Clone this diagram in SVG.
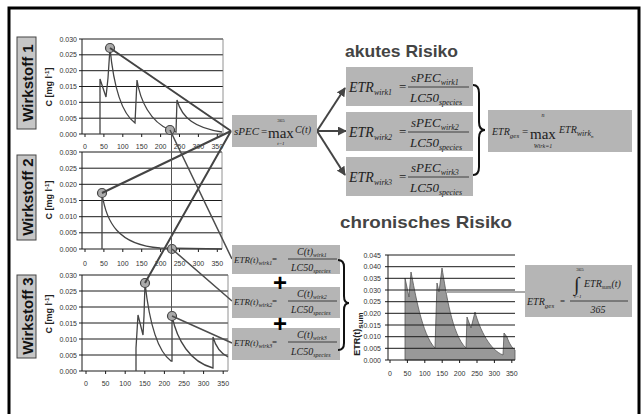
<svg xmlns="http://www.w3.org/2000/svg" width="641" height="414" viewBox="0 0 641 414">
<style>
.ax{font-family:"Liberation Sans",Arial,sans-serif;font-size:7px;fill:#333}
.axr{text-anchor:end}
.axm{text-anchor:middle}
.grid{stroke:#1a1a1a;stroke-width:1;fill:none}
.frame{fill:none;stroke:#777;stroke-width:0.8}
.curve{fill:none;stroke:#444;stroke-width:1.3}
.mk{fill:#aaa;stroke:#444;stroke-width:1.2}
.wlab{fill:#c6c6c6;stroke:#444;stroke-width:1}
.wt{font-family:"Liberation Sans",Arial,sans-serif;font-weight:bold;font-size:15px;fill:#111;text-anchor:middle}
.ct{font-family:"Liberation Sans",Arial,sans-serif;font-weight:bold;font-size:9px;fill:#222;text-anchor:middle}
.box{fill:#b5b5b5}
.f{font-family:"Liberation Serif","Times New Roman",serif;font-style:italic;fill:#222}
.fu{font-family:"Liberation Serif","Times New Roman",serif;fill:#222}
.fl{stroke:#222;stroke-width:0.8}
.conn{stroke:#444;stroke-width:2;fill:none}
.conn2{stroke:#4d4d4d;stroke-width:1.5;fill:none}
.title{font-family:"Liberation Sans",Arial,sans-serif;font-weight:bold;font-size:17px;fill:#444}
.brace{fill:none;stroke:#111;stroke-width:2}
.plus{font-family:"Liberation Sans",Arial,sans-serif;font-weight:bold;font-size:24px;fill:#000;text-anchor:middle}
</style>
<defs>
<marker id="ah" viewBox="0 0 10 10" refX="9" refY="5" markerWidth="9" markerHeight="9" markerUnits="userSpaceOnUse" orient="auto"><path d="M0,0 L10,5 L0,10 z" fill="#444"/></marker>
</defs>
<rect x="0" y="0" width="641" height="414" fill="#fff"/>
<path d="M9,414 V8 H639 V414" fill="none" stroke="#000" stroke-width="3"/>

<g id="chart1">
<rect class="wlab" x="17" y="37" width="19" height="92"/>
<text class="wt" transform="translate(32.5,83) rotate(-90)">Wirkstoff 1</text>
<text class="ct" transform="translate(52,87) rotate(-90)">C [mg l<tspan dy="-3" font-size="6">-1</tspan><tspan dy="3">]</tspan></text>
<path class="grid" d="M82,39H223M82,54.8H223M82,70.7H223M82,86.5H223M82,102.3H223M82,118.2H223M82,134H223M82,39V134M79,39H82M79,54.8H82M79,70.7H82M79,86.5H82M79,102.3H82M79,118.2H82M79,134H82M85,134v3M103.9,134v3M122.8,134v3M141.7,134v3M160.6,134v3M179.5,134v3M198.4,134v3M217.3,134v3"/>
<path class="frame" d="M223,39V134"/>
<g class="ax axr"><text x="77" y="41.5">0.030</text><text x="77" y="57.3">0.025</text><text x="77" y="73.2">0.020</text><text x="77" y="89">0.015</text><text x="77" y="104.8">0.010</text><text x="77" y="120.7">0.005</text><text x="77" y="136.5">0.000</text></g>
<g class="ax axm"><text x="85" y="149">0</text><text x="103.9" y="149">50</text><text x="122.8" y="149">100</text><text x="141.7" y="149">150</text><text x="160.6" y="149">200</text><text x="179.5" y="149">250</text><text x="198.4" y="149">300</text><text x="217.3" y="149">350</text></g>
<path class="curve" d="M100,134V79L106,97L108,78L110,48C113,80 120,112 135,123L137,80C140,100 150,122 170,130L176,132L177,100C182,118 195,128 222,132"/>
<circle class="mk" cx="110" cy="48" r="4.5"/>
<circle class="mk" cx="170" cy="130" r="4.5"/>
</g>

<g id="chart2">
<rect class="wlab" x="17" y="155" width="19" height="85"/>
<text class="wt" transform="translate(32.5,197) rotate(-90)">Wirkstoff 2</text>
<text class="ct" transform="translate(52,200) rotate(-90)">C [mg l<tspan dy="-3" font-size="6">-1</tspan><tspan dy="3">]</tspan></text>
<path class="grid" d="M82,152H222M82,168.2H222M82,184.3H222M82,200.5H222M82,216.7H222M82,232.8H222M82,249H222M82,152V249M79,152H82M79,168.2H82M79,184.3H82M79,200.5H82M79,216.7H82M79,232.8H82M79,249H82M85,249v3M103.9,249v3M122.8,249v3M141.7,249v3M160.6,249v3M179.5,249v3M198.4,249v3M217.3,249v3"/>
<path class="frame" d="M222,152V249"/>
<g class="ax axr"><text x="77" y="154.5">0.030</text><text x="77" y="170.7">0.025</text><text x="77" y="186.8">0.020</text><text x="77" y="203">0.015</text><text x="77" y="219.2">0.010</text><text x="77" y="235.3">0.005</text><text x="77" y="251.5">0.000</text></g>
<g class="ax axm"><text x="85" y="266">0</text><text x="103.9" y="266">50</text><text x="122.8" y="266">100</text><text x="141.7" y="266">150</text><text x="160.6" y="266">200</text><text x="179.5" y="266">250</text><text x="198.4" y="266">300</text><text x="217.3" y="266">350</text></g>
<path class="curve" d="M102,249V193C106,222 118,245 160,248L222,249"/>
<circle class="mk" cx="102" cy="193" r="4.5"/>
<circle class="mk" cx="172" cy="249" r="4.5"/>
</g>

<g id="chart3">
<rect class="wlab" x="17" y="275" width="19" height="83"/>
<text class="wt" transform="translate(32.5,316) rotate(-90)">Wirkstoff 3</text>
<text class="ct" transform="translate(52,314) rotate(-90)">C [mg l<tspan dy="-3" font-size="6">-1</tspan><tspan dy="3">]</tspan></text>
<path class="grid" d="M82,275H228M82,291H228M82,307H228M82,323H228M82,339H228M82,355H228M82,371H228M82,275V371M79,275H82M79,291H82M79,307H82M79,323H82M79,339H82M79,355H82M79,371H82M86,371v3M105.6,371v3M125.2,371v3M144.8,371v3M164.4,371v3M184,371v3M203.6,371v3M223.2,371v3"/>
<path class="frame" d="M228,275V371"/>
<g class="ax axr"><text x="77" y="277.5">0.030</text><text x="77" y="293.5">0.025</text><text x="77" y="309.5">0.020</text><text x="77" y="325.5">0.015</text><text x="77" y="341.5">0.010</text><text x="77" y="357.5">0.005</text><text x="77" y="373.5">0.000</text></g>
<g class="ax axm"><text x="86" y="386">0</text><text x="105.6" y="386">50</text><text x="125.2" y="386">100</text><text x="144.8" y="386">150</text><text x="164.4" y="386">200</text><text x="184" y="386">250</text><text x="203.6" y="386">300</text><text x="223.2" y="386">350</text></g>
<path class="curve" d="M136,371V348L138,315L143,335L144,316L145,283C149,320 156,350 171,361L172,361V316C177,340 190,362 213,368L213,337C216,348 222,354 228,357"/>
<circle class="mk" cx="145" cy="283" r="4.5"/>
<circle class="mk" cx="172" cy="316" r="4.5"/>
</g>

<g id="connectors">
<path class="conn" d="M110,48L231,131M102,193L231,131M145,283L231,131"/>
<path class="conn2" d="M170,130L232,259M172,249L232,301M172,316L232,343"/>
<path d="M171.5,134V312" stroke="#555" stroke-width="1"/>
<path class="conn" stroke-width="2.5" d="M317,131L345,88" marker-end="url(#ah)"/>
<path class="conn" stroke-width="2.5" d="M317,131L346,131" marker-end="url(#ah)"/>
<path class="conn" stroke-width="2.5" d="M317,131L345,175" marker-end="url(#ah)"/>
<path d="M447,292H525" stroke="#555" stroke-width="1.2"/>
</g>

<g id="spec">
<rect class="box" x="232" y="115" width="85" height="32"/>
<text class="f" x="234" y="135" font-size="11">sPEC</text>
<text class="fu" x="261" y="135" font-size="11">=</text>
<text class="fu" x="268" y="138" font-size="15">max</text>
<text class="fu" x="281" y="122" font-size="5" text-anchor="middle">365</text>
<text class="f" x="281" y="145" font-size="5" text-anchor="middle">t=1</text>
<text class="f" x="295" y="133" font-size="10">C(t)</text>
</g>

<g id="title-acute"><text class="title" x="345" y="57" textLength="113" lengthAdjust="spacingAndGlyphs">akutes Risiko</text></g>

<g id="etr1">
<rect class="box" x="346" y="67" width="127" height="39"/>
<text class="f" x="349" y="92" font-size="14">ETR<tspan font-size="8" dy="3">wirk1</tspan></text>
<text class="fu" x="399" y="91" font-size="13">=</text>
<text class="f" x="411" y="82" font-size="13">sPEC<tspan font-size="8" dy="3">wirk1</tspan></text>
<path class="fl" d="M408,87H469"/>
<text class="f" x="410" y="102" font-size="13">LC50<tspan font-size="8" dy="3">species</tspan></text>
</g>
<g id="etr2">
<rect class="box" x="346" y="112" width="127" height="39"/>
<text class="f" x="349" y="137" font-size="14">ETR<tspan font-size="8" dy="3">wirk2</tspan></text>
<text class="fu" x="399" y="136" font-size="13">=</text>
<text class="f" x="411" y="127" font-size="13">sPEC<tspan font-size="8" dy="3">wirk2</tspan></text>
<path class="fl" d="M408,132H469"/>
<text class="f" x="410" y="147" font-size="13">LC50<tspan font-size="8" dy="3">species</tspan></text>
</g>
<g id="etr3">
<rect class="box" x="346" y="157" width="127" height="39"/>
<text class="f" x="349" y="182" font-size="14">ETR<tspan font-size="8" dy="3">wirk3</tspan></text>
<text class="fu" x="399" y="181" font-size="13">=</text>
<text class="f" x="411" y="172" font-size="13">sPEC<tspan font-size="8" dy="3">wirk3</tspan></text>
<path class="fl" d="M408,177H469"/>
<text class="f" x="410" y="192" font-size="13">LC50<tspan font-size="8" dy="3">species</tspan></text>
</g>

<path class="brace" d="M473,85Q479,85 479,93V122Q479,130 485,130Q479,130 479,138V167Q479,175 473,175"/>

<g id="etrges-acute">
<rect class="box" x="488" y="110" width="144" height="42"/>
<text class="f" x="492" y="135" font-size="10">ETR<tspan font-size="7" dy="3">ges</tspan></text>
<text class="fu" x="522" y="135" font-size="11">=</text>
<text class="fu" x="530" y="139" font-size="15">max</text>
<text class="f" x="543" y="117" font-size="6" text-anchor="middle">n</text>
<text class="f" x="543" y="148" font-size="6" text-anchor="middle">Wirk=1</text>
<text class="f" x="559" y="133" font-size="10">ETR<tspan font-size="8" dy="3">wirk</tspan><tspan font-size="5" dy="2">n</tspan></text>
</g>

<g id="title-chronic"><text class="title" x="340" y="228" textLength="172" lengthAdjust="spacingAndGlyphs">chronisches Risiko</text></g>

<g id="etrt1">
<rect class="box" x="232" y="245" width="108" height="29"/>
<text class="f" x="234" y="263" font-size="9">ETR(t)<tspan font-size="6" dy="2">wirk1</tspan></text>
<text class="fu" x="272" y="262" font-size="9">=</text>
<text class="f" x="297" y="255" font-size="10">C(t)<tspan font-size="6" dy="2">wirk1</tspan></text>
<path class="fl" d="M288,259H337"/>
<text class="f" x="291" y="271" font-size="10">LC50<tspan font-size="6" dy="2">species</tspan></text>
</g>
<g id="etrt2">
<rect class="box" x="232" y="287" width="108" height="31"/>
<text class="f" x="234" y="305" font-size="9">ETR(t)<tspan font-size="6" dy="2">wirk2</tspan></text>
<text class="fu" x="272" y="304" font-size="9">=</text>
<text class="f" x="297" y="297" font-size="10">C(t)<tspan font-size="6" dy="2">wirk2</tspan></text>
<path class="fl" d="M288,301H337"/>
<text class="f" x="291" y="313" font-size="10">LC50<tspan font-size="6" dy="2">species</tspan></text>
</g>
<g id="etrt3">
<rect class="box" x="232" y="328" width="108" height="32"/>
<text class="f" x="234" y="346" font-size="9">ETR(t)<tspan font-size="6" dy="2">wirk3</tspan></text>
<text class="fu" x="272" y="345" font-size="9">=</text>
<text class="f" x="297" y="338" font-size="10">C(t)<tspan font-size="6" dy="2">wirk3</tspan></text>
<path class="fl" d="M288,342H337"/>
<text class="f" x="291" y="355" font-size="10">LC50<tspan font-size="6" dy="2">species</tspan></text>
</g>
<g id="plus"><text class="plus" x="280" y="291">+</text><text class="plus" x="280" y="332">+</text></g>

<path class="brace" d="M338,260Q344,260 344,267V296Q344,303 349,303Q344,303 344,310V343Q344,350 338,350"/>

<g id="sumchart">
<path d="M405,360L405,278L409,297L411,272C415,292 422,335 435,348L437,283L439,292L442,268C446,292 452,335 466,348L467,317L471,328L475,312C480,330 490,350 503,355L504,333L507,337C509,343 512,348 515,350L515,360Z" fill="#999" stroke="#555" stroke-width="0.8"/>
<path class="grid" d="M388,255H515M388,266.7H515M388,278.3H515M388,290H515M388,301.7H515M388,313.3H515M388,325H515M388,336.7H515M388,348.3H515M388,360H515M388,255V360M385,255H388M385,266.7H388M385,278.3H388M385,290H388M385,301.7H388M385,313.3H388M385,325H388M385,336.7H388M385,348.3H388M385,360H388M390,360v3M407.4,360v3M424.8,360v3M442.2,360v3M459.6,360v3M477,360v3M494.4,360v3M511.8,360v3"/>
<g class="ax axr"><text x="381" y="257.5">0.045</text><text x="381" y="269.2">0.040</text><text x="381" y="280.8">0.035</text><text x="381" y="292.5">0.030</text><text x="381" y="304.2">0.025</text><text x="381" y="315.8">0.020</text><text x="381" y="327.5">0.015</text><text x="381" y="339.2">0.010</text><text x="381" y="350.8">0.005</text><text x="381" y="362.5">0.000</text></g>
<g class="ax axm"><text x="390" y="376">0</text><text x="407.4" y="376">50</text><text x="424.8" y="376">100</text><text x="442.2" y="376">150</text><text x="459.6" y="376">200</text><text x="477" y="376">250</text><text x="494.4" y="376">300</text><text x="511.8" y="376">350</text></g>
<text class="ct" font-size="12" text-anchor="start" transform="translate(360,334) rotate(-90)">ETR(t)<tspan font-size="8" dy="3">sum</tspan></text>
</g>

<g id="etrges-chronic">
<rect class="box" x="525" y="265" width="107" height="52"/>
<text class="f" x="527" y="305" font-size="10">ETR<tspan font-size="7" dy="3">ges</tspan></text>
<text class="fu" x="560" y="304" font-size="9">=</text>
<text class="f" x="574" y="291" font-size="20">∫</text>
<text class="fu" x="580" y="271" font-size="5" text-anchor="middle">365</text>
<text class="f" x="578" y="298" font-size="5" text-anchor="middle">t=1</text>
<text class="f" x="584" y="287" font-size="10">ETR<tspan font-size="6" dy="2">sum</tspan><tspan font-size="10" dy="-2">(t)</tspan></text>
<path class="fl" d="M570,301H628"/>
<text class="f" x="598" y="313" font-size="10" text-anchor="middle">365</text>
</g>
</svg>
